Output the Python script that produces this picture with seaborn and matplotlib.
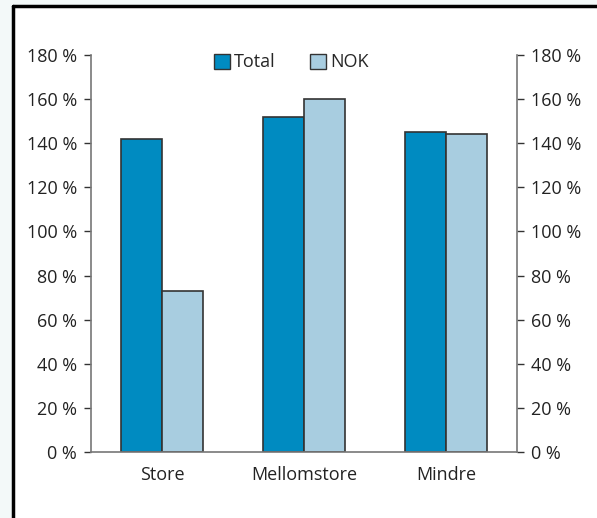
import matplotlib
matplotlib.use("Agg")
import matplotlib.pyplot as plt
import seaborn as sns
import pandas as pd
from matplotlib.patches import Rectangle
from matplotlib.lines import Line2D

categories = ["Store", "Mellomstore", "Mindre"]
total_values = [142, 152, 145]
nok_values = [73, 160, 144]
series_names = ["Total", "NOK"]
y_ticks = [0, 20, 40, 60, 80, 100, 120, 140, 160, 180]

df = pd.DataFrame({
    "Kategori": categories * 2,
    "Serie": [series_names[0]] * 3 + [series_names[1]] * 3,
    "Verdi": total_values + nok_values,
})

sns.set_theme(style="white")
plt.rcParams["font.family"] = ["Open Sans", "DejaVu Sans"]

W, H = 597, 518
fig = plt.figure(figsize=(W / 100, H / 100), dpi=100)
fig.patch.set_facecolor("#f3f9f9")

# white panel with black border on top and left
panel = Rectangle((13 / W, 0), 1 - 13 / W, 1 - 6 / H, transform=fig.transFigure,
                  facecolor="white", edgecolor="none", zorder=-5)
fig.patches.append(panel)
fig.add_artist(Line2D([13 / W, 1], [1 - 6 / H, 1 - 6 / H], transform=fig.transFigure,
                      color="black", lw=2.5, zorder=-4))
fig.add_artist(Line2D([13 / W, 13 / W], [0, 1 - 6 / H], transform=fig.transFigure,
                      color="black", lw=2.5, zorder=-4))

ax = fig.add_axes([91 / W, (H - 452) / H, (517 - 91) / W, (452 - 55) / H])
ax.set_zorder(1)
ax.set_facecolor("white")

palette = {"Total": "#008bc1", "NOK": "#a8cde0"}
sns.barplot(data=df, x="Kategori", y="Verdi", hue="Serie", palette=palette,
            width=0.58, gap=0, edgecolor="#333333", linewidth=1.2,
            saturation=1, ax=ax, legend=False)

ax.set_xlim(-0.5, 2.5)
ax.set_ylim(0, 180)
ax.set_yticks(y_ticks)
ax.set_yticklabels([f"{v} %" for v in y_ticks])
ax.set_xlabel("")
ax.set_ylabel("")

spine_col = "#777777"
for s in ["left", "right", "bottom"]:
    ax.spines[s].set_visible(True)
    ax.spines[s].set_color(spine_col)
    ax.spines[s].set_linewidth(1.2)
ax.spines["top"].set_visible(False)

fs = 13
ax.tick_params(axis="y", which="both", left=True, right=True, labelleft=True,
               labelright=True, direction="out", length=5, width=1,
               color="#333333", labelsize=fs, labelcolor="#222222", pad=5)
ax.tick_params(axis="x", bottom=False, labelsize=fs, labelcolor="#222222", pad=4)

handles = [Rectangle((0, 0), 1, 1, facecolor=palette[n], edgecolor="#333333", lw=1)
           for n in series_names]
ax.legend(handles, series_names, loc="upper center", bbox_to_anchor=(0.47, 1.045),
          ncol=2, frameon=False, fontsize=fs, handlelength=0.9, handleheight=0.9,
          handletextpad=0.2, columnspacing=1.9)

fig.savefig("out.png", dpi=100, facecolor=fig.get_facecolor())
